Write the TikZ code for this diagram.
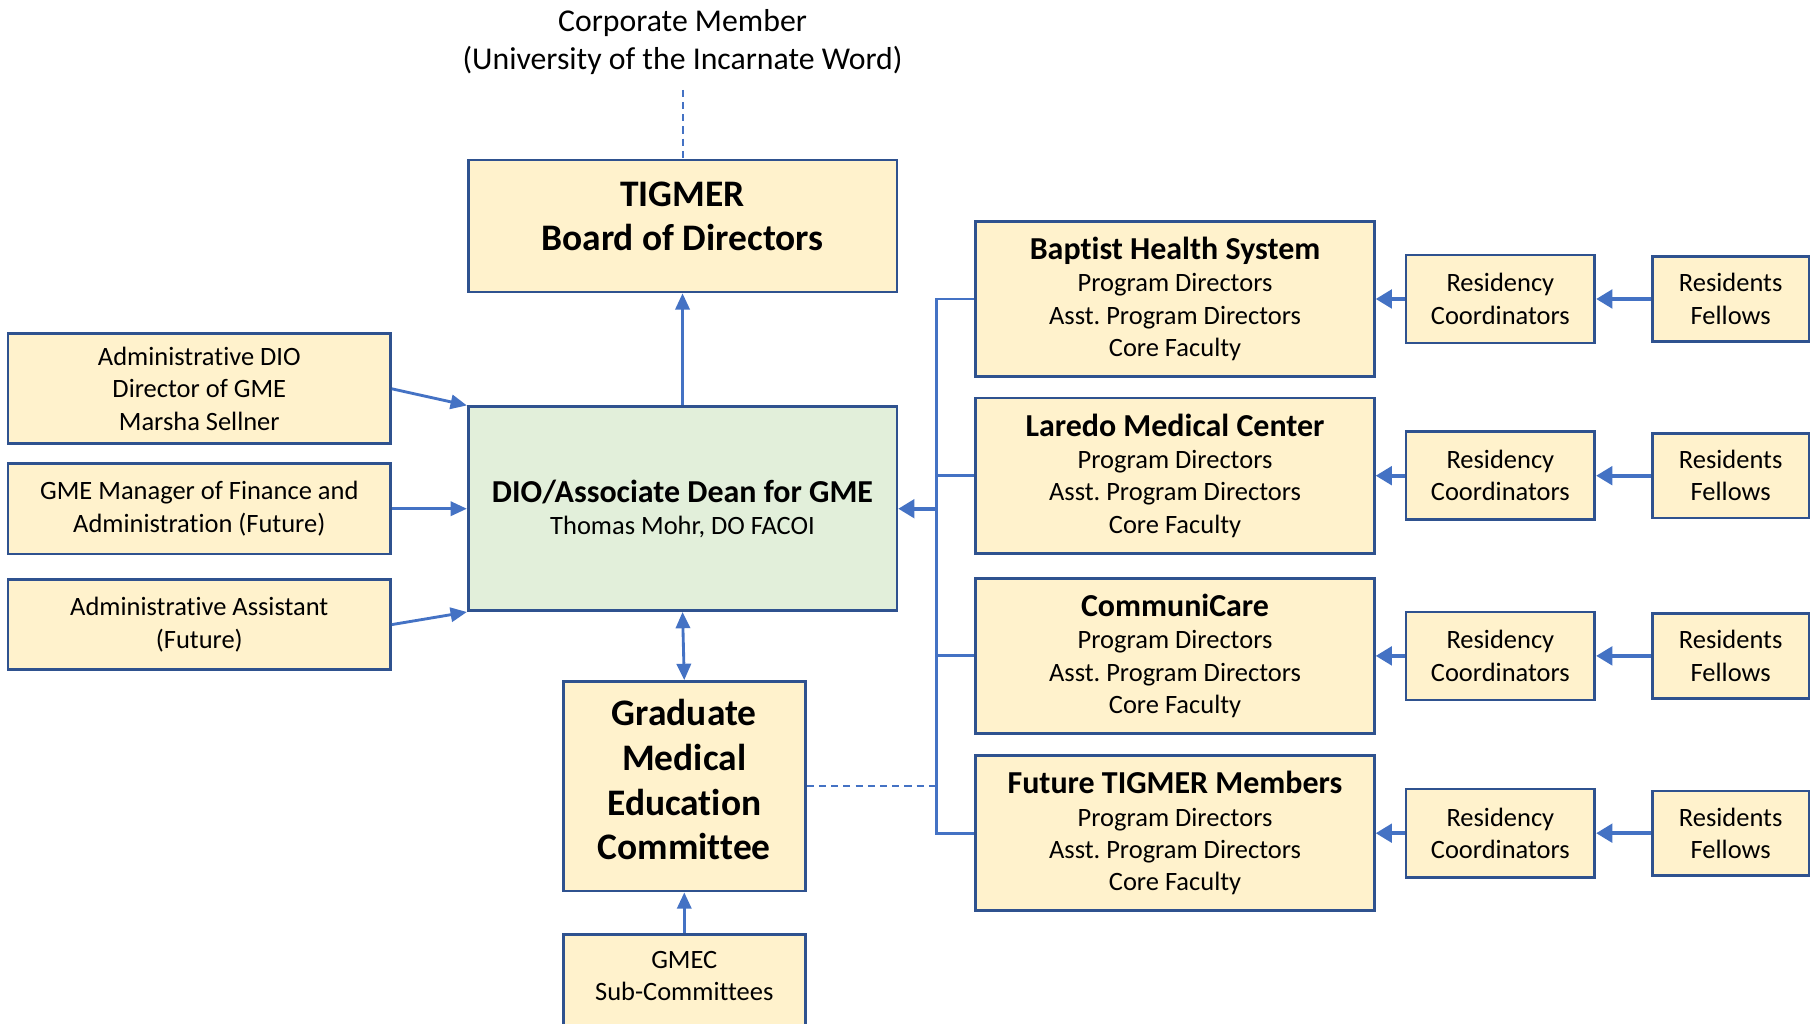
\documentclass[tikz,border=0pt]{standalone}
\usepackage{fontspec}
\setmainfont{Carlito}[Ligatures=NoCommon]
\usepackage{xcolor}
\usetikzlibrary{positioning, arrows.meta}

\definecolor{boxline}{HTML}{2F528F}
\definecolor{boxfill}{HTML}{FFF2CC}
\definecolor{diofill}{HTML}{E2EFDA}
\definecolor{linkblue}{HTML}{4472C4}

\newcommand{\bodyfont}{\fontsize{13}{15.9}\selectfont}
\newcommand{\headline}[1]{{\fontsize{15.7}{17.4}\selectfont\bfseries #1}}

\begin{document}
\begin{tikzpicture}[
    x=0.02cm, y=-0.02cm,
    orgbox/.style={rectangle, draw=boxline, line width=1.3pt, fill=boxfill, align=center, font=\bodyfont, inner sep=2pt},
    diobox/.style={orgbox, fill=diofill},
    memberbox/.style={orgbox, minimum width=6.88cm, minimum height=2.68cm},
    coordbox/.style={orgbox, minimum width=3.26cm, minimum height=1.52cm},
    residentbox/.style={orgbox, minimum width=2.7cm, minimum height=1.46cm},
    sidebox/.style={orgbox, minimum width=6.6cm, minimum height=1.56cm},
    bigtext/.style={font=\fontsize{18.4}{22}\selectfont\bfseries},
    wire/.style={draw=linkblue, line width=1.4pt},
    link/.style={wire, -{Triangle[length=8pt, width=7pt]}},
    biglink/.style={draw=linkblue, line width=2.1pt, -{Triangle[length=8pt, width=9pt]}},
    dashlink/.style={draw=linkblue, line width=1pt, dash pattern=on 3.5pt off 2.5pt},
]
\useasboundingbox (0,0) rectangle (1568,883);
\clip (0,0) rectangle (1568,883);

% top of the chart
\node[font=\fontsize{15.6}{18.8}\selectfont, align=center](corp) at (589,36){Corporate Member\\(University of the Incarnate Word)};
\node[orgbox, bigtext, minimum width=7.4cm, minimum height=2.28cm, text depth=9.6pt](tigmer) at (589,195){TIGMER\\Board of Directors};
\node[diobox, minimum width=7.4cm, minimum height=3.52cm](dio) at (589,439){\headline{DIO/Associate Dean for GME}\\Thomas Mohr, DO FACOI};

% staff on the left
\node[sidebox, minimum height=1.9cm](admdio) at (172,335.5){Administrative DIO\\Director of GME\\Marsha Sellner};
\node[sidebox](gmemgr) at (172,439){GME Manager of Finance and\\Administration (Future)};
\node[sidebox](assist) at (172,539){Administrative Assistant\\(Future)};

% committee
\node[orgbox, bigtext, minimum width=4.18cm, minimum height=3.62cm, text depth=6.5pt](gmec) at (590.5,678.5){Graduate\\Medical\\Education\\Committee};
\node[orgbox, minimum width=4.18cm, minimum height=1.62cm, text depth=5pt](gmecsub)[below = 0.7cm of gmec]{GMEC\\Sub-Committees};

% member institutions
\node[memberbox](baptist) at (1014,258){\headline{Baptist Health System}\\Program Directors\\Asst.\ Program Directors\\Core Faculty};
\node[memberbox](laredo) at (1014,410.5){\headline{Laredo Medical Center}\\Program Directors\\Asst.\ Program Directors\\Core Faculty};
\node[memberbox](communi) at (1014,566){\headline{CommuniCare}\\Program Directors\\Asst.\ Program Directors\\Core Faculty};
\node[memberbox](future) at (1014,719){\headline{Future TIGMER Members}\\Program Directors\\Asst.\ Program Directors\\Core Faculty};

\node[coordbox](coorda)[right = 0.5cm of baptist]{Residency\\Coordinators};
\node[coordbox](coordb)[right = 0.5cm of laredo]{Residency\\Coordinators};
\node[coordbox](coordc)[right = 0.5cm of communi]{Residency\\Coordinators};
\node[coordbox](coordd)[right = 0.5cm of future]{Residency\\Coordinators};

\node[residentbox](resa)[right = 0.95cm of coorda]{Residents\\Fellows};
\node[residentbox](resb)[right = 0.95cm of coordb]{Residents\\Fellows};
\node[residentbox](resc)[right = 0.95cm of coordc]{Residents\\Fellows};
\node[residentbox](resd)[right = 0.95cm of coordd]{Residents\\Fellows};

% connectors
\coordinate (bus) at (808,0);
\draw[dashlink, shorten <=4pt] (corp) -- (tigmer);
\draw[link] (dio) -- (tigmer);
\draw[link] (admdio.east) -- (dio.north west);
\draw[link] (gmemgr.east) -- (dio.west);
\draw[link] (assist.east) -- (dio.south west);
\draw[link, {Triangle[length=8pt, width=7pt]}-{Triangle[length=8pt, width=7pt]}] (dio.south) -- (gmec.north);
\draw[link] (gmecsub) -- (gmec);
\draw[dashlink] (gmec.east) -- (gmec.east -| bus);
\draw[wire] (baptist.west) -- (baptist.west -| bus) |- (future.west);
\draw[wire] (laredo.west) -- (laredo.west -| bus);
\draw[wire] (communi.west) -- (communi.west -| bus);
\draw[biglink] (dio.east -| bus) -- (dio.east);
\draw[biglink] (coorda) -- (baptist);
\draw[biglink] (coordb) -- (laredo);
\draw[biglink] (coordc) -- (communi);
\draw[biglink] (coordd) -- (future);
\draw[biglink] (resa) -- (coorda);
\draw[biglink] (resb) -- (coordb);
\draw[biglink] (resc) -- (coordc);
\draw[biglink] (resd) -- (coordd);
\end{tikzpicture}
\end{document}
